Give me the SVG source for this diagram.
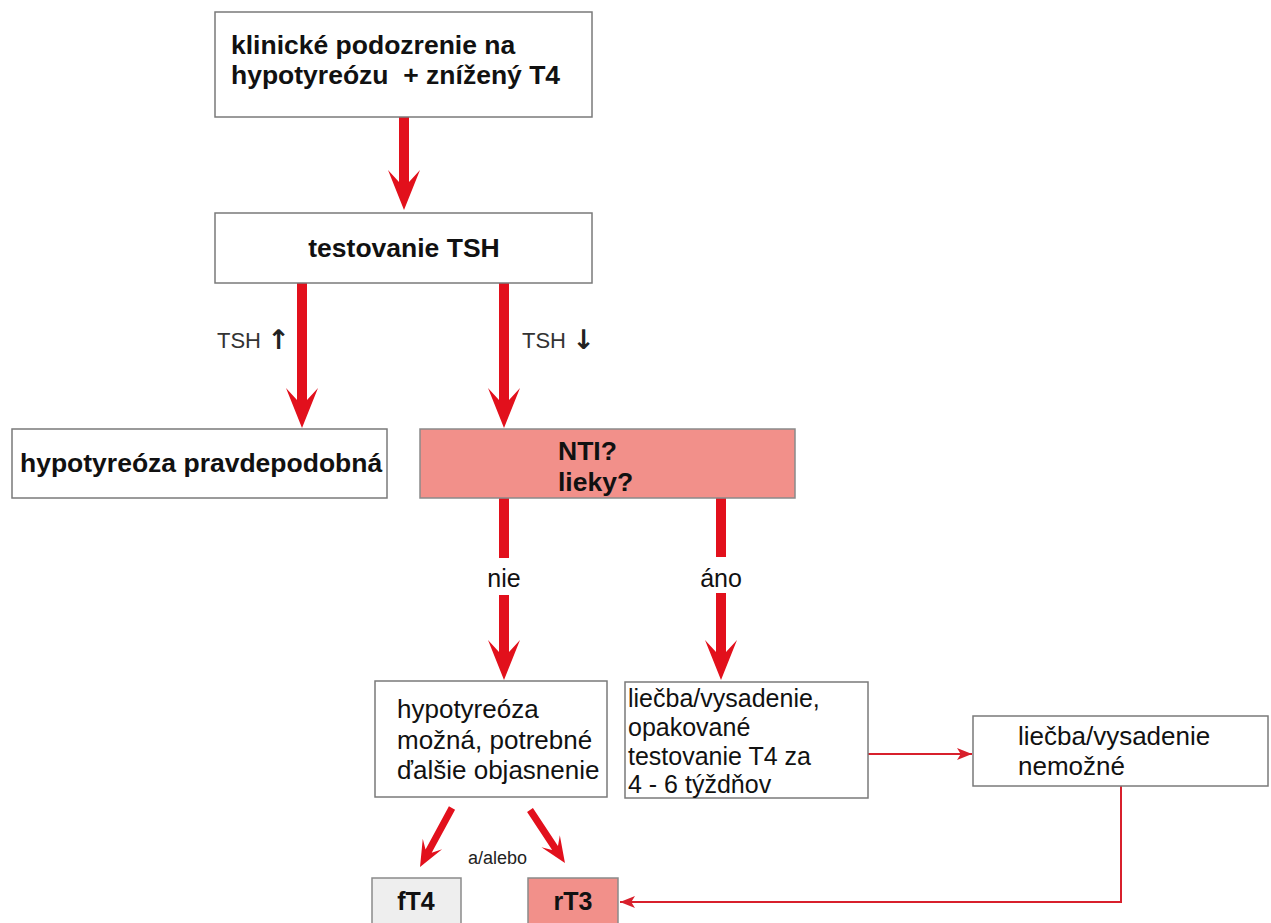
<svg xmlns="http://www.w3.org/2000/svg" width="1271" height="923" viewBox="0 0 1271 923">
<defs>
<style>
.box{fill:#ffffff;stroke:#7a7a7a;stroke-width:1.5}
.pink{fill:#f2908a;stroke:#8a8a8a;stroke-width:1.5}
.grey{fill:#eeeeee;stroke:#8a8a8a;stroke-width:1.5}
.b{font-family:"Liberation Sans",Arial,sans-serif;font-weight:bold;font-size:26.5px;fill:#111}
.r{font-family:"Liberation Sans",Arial,sans-serif;font-size:26px;fill:#111}
.r25{font-family:"Liberation Sans",Arial,sans-serif;font-size:25px;fill:#111}
.lbl{font-family:"Liberation Sans",Arial,sans-serif;font-size:22px;fill:#333}
.arr{font-family:"DejaVu Sans",sans-serif;font-weight:bold;font-size:27px;fill:#222}
.small{font-family:"Liberation Sans",Arial,sans-serif;font-size:18px;fill:#222}
.big{fill:#e2101c}
.thin{fill:none;stroke:#d8202c;stroke-width:2}
</style>
<marker id="ah" viewBox="0 0 10 10" refX="10" refY="5" markerWidth="15" markerHeight="12" markerUnits="userSpaceOnUse" orient="auto" preserveAspectRatio="none">
<path d="M0,0 L10,5 L0,10 L2.5,5 Z" fill="#d8202c"/>
</marker>
</defs>
<rect width="1271" height="923" fill="#ffffff"/>

<g id="connectors">
<polygon class="big" points="399,117 409,117 409,182 420,170 404,210 388,170 399,182"/>
<polygon class="big" points="297,283 307,283 307,400 318,388 302,428 286,388 297,400"/>
<polygon class="big" points="499,283 509,283 509,400 520,388 504,428 488,388 499,400"/>
<polygon class="big" points="499,498 509,498 509,558 499,558"/>
<polygon class="big" points="499,595 509,595 509,652 520,640 504,680 488,640 499,652"/>
<polygon class="big" points="716,498 726,498 726,557 716,557"/>
<polygon class="big" points="716,593 726,593 726,652 737,640 721,680 705,640 716,652"/>
<g transform="translate(452,808) rotate(28.5)">
<polygon class="big" points="-3.5,0 3.5,0 3.5,49 11,41 0,67 -11,41 -3.5,49"/>
</g>
<g transform="translate(530,810) rotate(-33.4)">
<polygon class="big" points="-3.5,0 3.5,0 3.5,45.5 11,37.5 0,63.5 -11,37.5 -3.5,45.5"/>
</g>
<line class="thin" x1="868" y1="754" x2="972" y2="754" marker-end="url(#ah)"/>
<polyline class="thin" points="1121,786 1121,902 620,902" marker-end="url(#ah)"/>
</g>

<g id="labels">
<text class="lbl" x="217" y="348">TSH <tspan class="arr" dy="1">↑</tspan></text>
<text class="lbl" x="522" y="348">TSH <tspan class="arr" dy="1">↓</tspan></text>
<text class="r25" x="504" y="587" text-anchor="middle">nie</text>
<text class="r25" x="721" y="587" text-anchor="middle">áno</text>
<text class="small" x="468" y="864">a/alebo</text>
</g>

<g id="n-start">
<rect class="box" x="215" y="12" width="377" height="105"/>
<text class="b" x="231" y="54">klinické podozrenie na</text>
<text class="b" x="231" y="84" style="white-space:pre">hypotyreózu  + znížený T4</text>
</g>

<g id="n-tsh">
<rect class="box" x="215" y="213" width="377" height="70"/>
<text class="b" x="404" y="257" text-anchor="middle">testovanie TSH</text>
</g>

<g id="n-probable">
<rect class="box" x="12" y="429" width="375" height="69"/>
<text class="b" x="20" y="472">hypotyreóza pravdepodobná</text>
</g>

<g id="n-nti">
<rect class="pink" x="420" y="429" width="375" height="69"/>
<text class="b" x="558" y="460">NTI?</text>
<text class="b" x="558" y="491">lieky?</text>
</g>

<g id="n-possible">
<rect class="box" x="375" y="681" width="232" height="116"/>
<text class="r" x="397" y="718">hypotyreóza</text>
<text class="r" x="397" y="749">možná, potrebné</text>
<text class="r" x="397" y="779">ďalšie objasnenie</text>
</g>

<g id="n-treatment">
<rect class="box" x="625" y="682" width="243" height="116"/>
<text class="r25" x="628" y="707">liečba/vysadenie,</text>
<text class="r25" x="628" y="736">opakované</text>
<text class="r25" x="628" y="765">testovanie T4 za</text>
<text class="r25" x="628" y="793">4 - 6 týždňov</text>
</g>

<g id="n-impossible">
<rect class="box" x="973" y="716" width="295" height="70"/>
<text class="r" x="1018" y="745">liečba/vysadenie</text>
<text class="r" x="1018" y="775">nemožné</text>
</g>

<g id="n-ft4">
<rect class="grey" x="372" y="878" width="89" height="60"/>
<text class="b" x="416" y="910" text-anchor="middle" style="font-size:25px">fT4</text>
</g>

<g id="n-rt3">
<rect class="pink" x="528" y="878" width="90" height="60"/>
<text class="b" x="573" y="910" text-anchor="middle" style="font-size:25px">rT3</text>
</g>
</svg>
